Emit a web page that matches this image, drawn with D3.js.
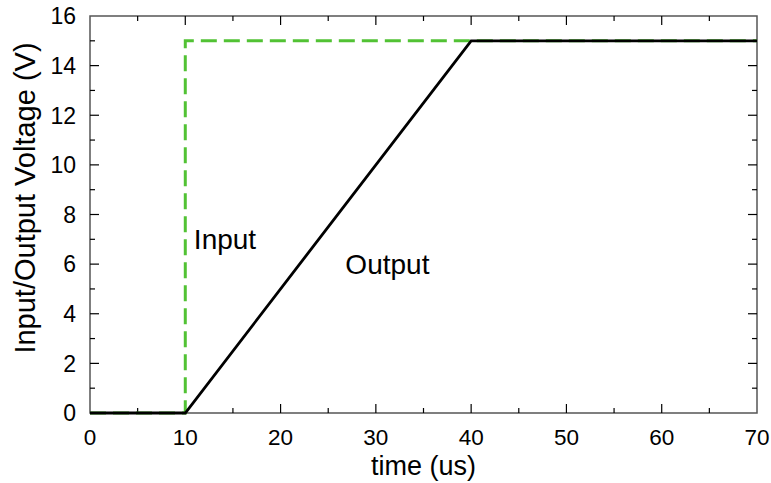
<!DOCTYPE html>
<html lang="en">
<head>
<meta charset="utf-8">
<style>
  body { margin:0; padding:0; background:#fff; }
  svg text { font-family: "Liberation Sans", Arial, sans-serif; fill:#000; }
</style>
<script src="https://cdn.jsdelivr.net/npm/d3@7"></script>
</head>
<body>
<svg id="chart" width="771" height="483"></svg>
<script>
// data
var inputTime  = [0, 10, 10, 70];
var inputVolt  = [0, 0, 15, 15];
var outputTime = [0, 10, 40, 70];
var outputVolt = [0, 0, 15, 15];
var xTicks = [0, 10, 20, 30, 40, 50, 60, 70];
var yTicks = [0, 2, 4, 6, 8, 10, 12, 14, 16];
var xMinor = [5, 15, 25, 35, 45, 55, 65];
var yMinor = [1, 3, 5, 7, 9, 11, 13, 15];
var labels = [{text:"Input", t:10.9, v:7}, {text:"Output", t:26.8, v:6}];

var svg = d3.select("#chart");
var x = d3.scaleLinear().domain([0, 70]).range([90, 757]);
var y = d3.scaleLinear().domain([0, 16]).range([413, 16]);

var zip = function(a, b){ return a.map(function(d,i){ return [d, b[i]]; }); };
var line = d3.line().x(function(d){ return x(d[0]); }).y(function(d){ return y(d[1]); });

// frame
svg.append("rect")
  .attr("x", x(0)).attr("y", y(16))
  .attr("width", x(70) - x(0)).attr("height", y(0) - y(16))
  .attr("fill", "none").attr("stroke", "#555").attr("stroke-width", 1.5);

// inward ticks on all four sides
var tk = svg.append("g").attr("stroke", "#000").attr("stroke-width", 1.2);
function xt(vals, len){
  vals.forEach(function(v){
    tk.append("line").attr("x1", x(v)).attr("x2", x(v)).attr("y1", y(0)).attr("y2", y(0) - len);
    tk.append("line").attr("x1", x(v)).attr("x2", x(v)).attr("y1", y(16)).attr("y2", y(16) + len);
  });
}
function yt(vals, len){
  vals.forEach(function(v){
    tk.append("line").attr("y1", y(v)).attr("y2", y(v)).attr("x1", x(0)).attr("x2", x(0) + len);
    tk.append("line").attr("y1", y(v)).attr("y2", y(v)).attr("x1", x(70)).attr("x2", x(70) - len);
  });
}
xt(xTicks.slice(1, -1), 9); xt(xMinor, 5);
yt(yTicks.slice(1, -1), 9); yt(yMinor, 5);

// tick labels
svg.append("g").selectAll("text").data(xTicks).enter().append("text")
  .attr("x", function(d){ return x(d); }).attr("y", 445)
  .attr("text-anchor", "middle").attr("font-size", 22.5)
  .text(function(d){ return d; });
svg.append("g").selectAll("text").data(yTicks).enter().append("text")
  .attr("x", 76).attr("y", function(d){ return y(d); }).attr("dy", "0.36em")
  .attr("text-anchor", "end").attr("font-size", 23)
  .text(function(d){ return d; });

// axis titles
svg.append("text").attr("x", (x(0) + x(70)) / 2).attr("y", 475)
  .attr("text-anchor", "middle").attr("font-size", 27).text("time (us)");
svg.append("text").attr("transform", "translate(35," + 198 + ") rotate(-90)")
  .attr("text-anchor", "middle").attr("font-size", 29).text("Input/Output Voltage (V)");

// series
svg.append("path").datum(zip(inputTime, inputVolt)).attr("d", line)
  .attr("fill", "none").attr("stroke", "#52c234").attr("stroke-width", 3)
  .attr("stroke-dasharray", "16,7");
svg.append("path").datum(zip(outputTime, outputVolt)).attr("d", line)
  .attr("fill", "none").attr("stroke", "#000").attr("stroke-width", 2.8);

// in-plot labels
svg.append("g").selectAll("text").data(labels).enter().append("text")
  .attr("x", function(d){ return x(d.t); }).attr("y", function(d){ return y(d.v); })
  .attr("dy", "0.35em").attr("font-size", 28)
  .text(function(d){ return d.text; });
</script>
</body>
</html>
